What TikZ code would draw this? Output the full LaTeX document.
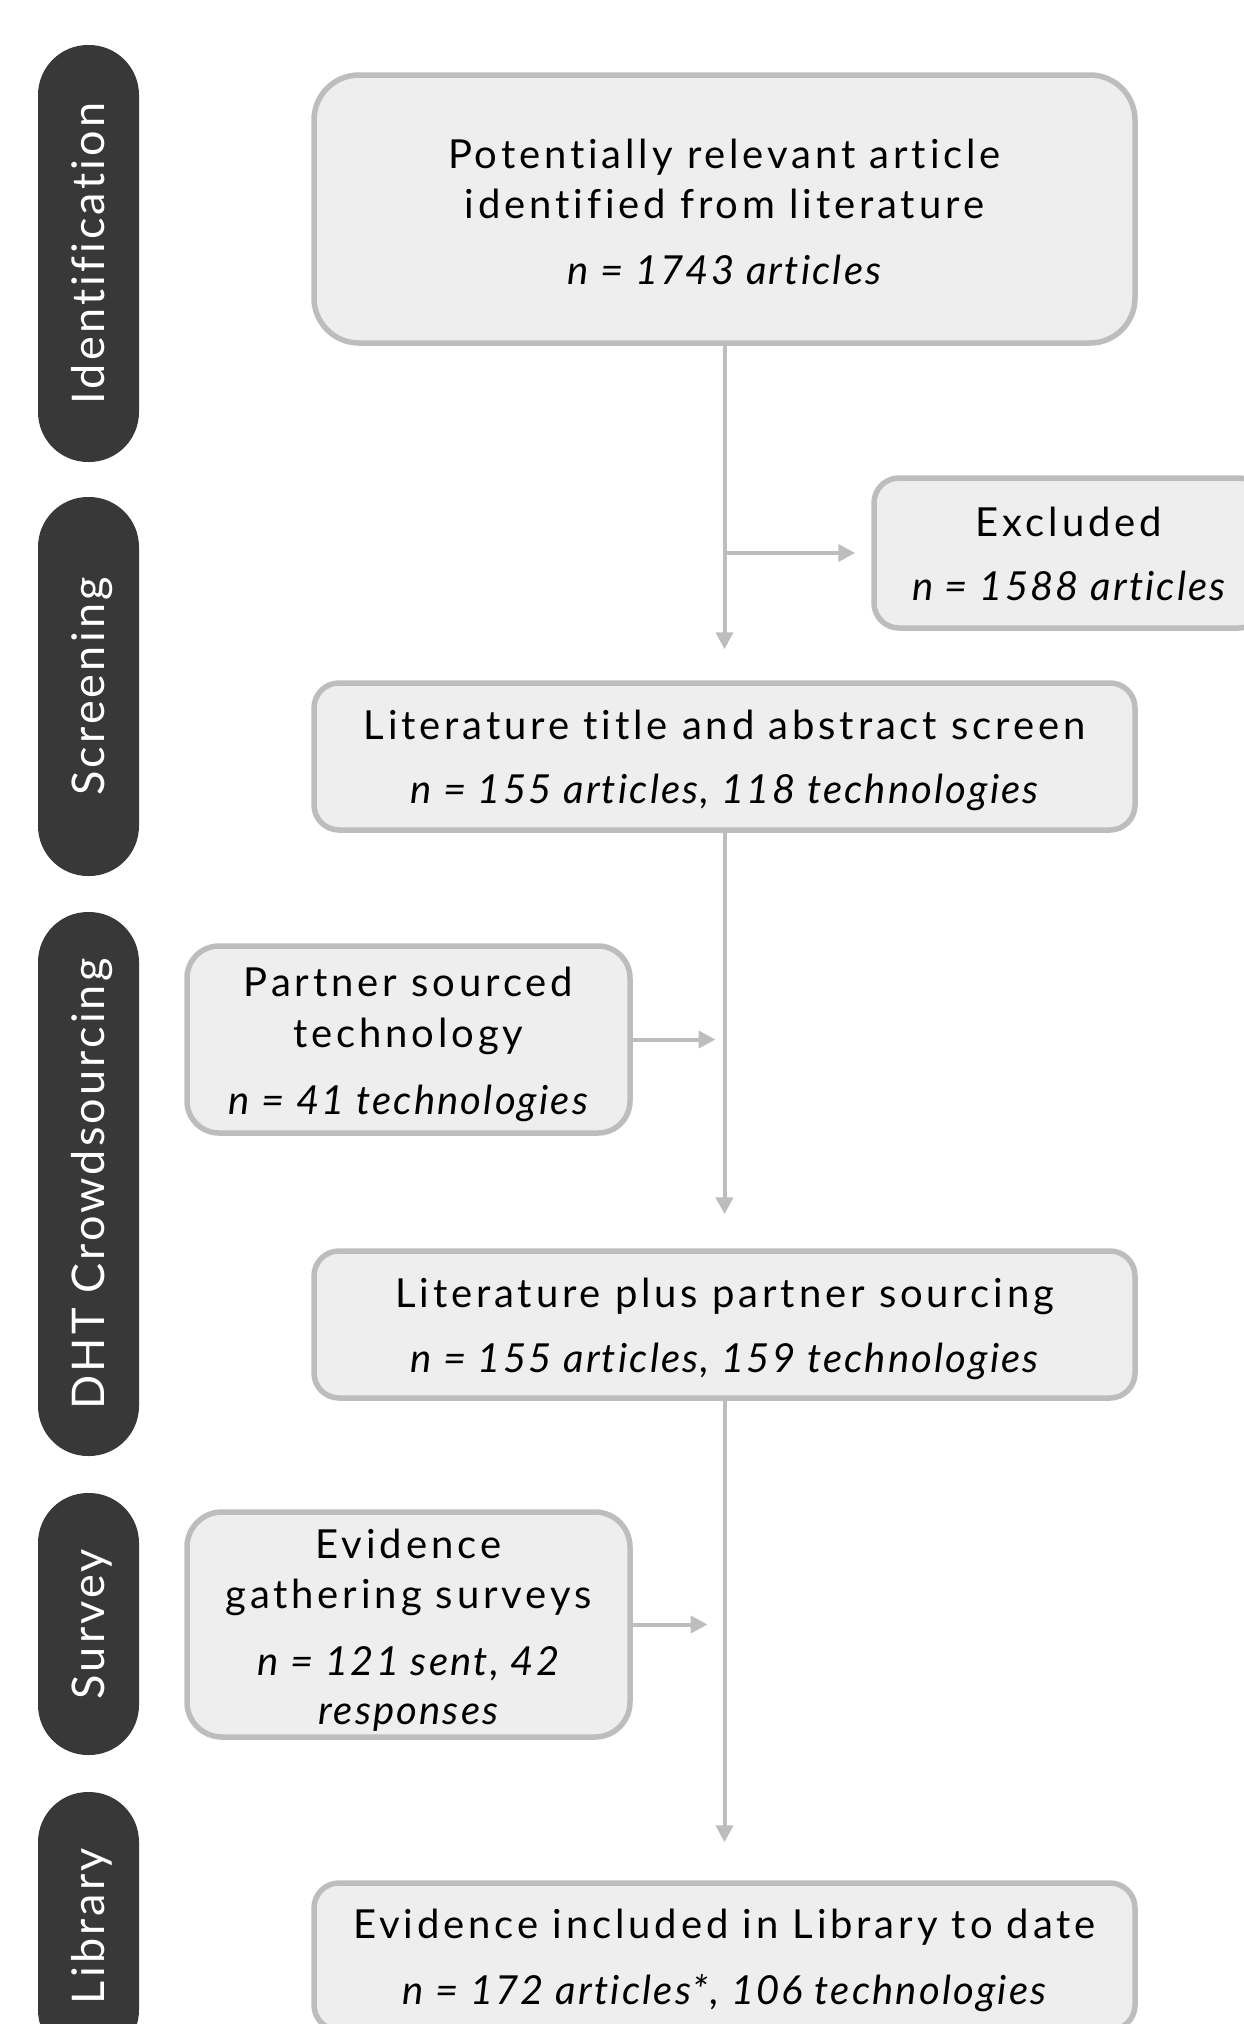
\documentclass[tikz,border=0pt]{standalone}
\usepackage{fontspec}
\setmainfont{Lato}[Ligatures=NoCommon, UprightFeatures={LetterSpace=9.7}, ItalicFeatures={LetterSpace=5.5}]
\newfontfamily\pillfam{Lato}[Ligatures=NoCommon, LetterSpace=7]
\usetikzlibrary{arrows.meta}
\definecolor{pillc}{HTML}{383838}
\definecolor{boxfill}{HTML}{EEEEEE}
\definecolor{boxline}{HTML}{BDBDBD}
\newcommand\bxfont{\fontsize{40}{48}\selectfont}
\newcommand\plfont{\pillfam\fontsize{45}{54}\selectfont}
\begin{document}
\begin{tikzpicture}[x=1pt,y=-1pt,
  pill/.style={fill=pillc, text=white, rounded corners=50pt, rotate=90, minimum height=101pt, inner sep=0pt, text height=32pt, text depth=0pt, font=\plfont},
  box/.style={fill=boxfill, draw=boxline, line width=5.5pt, inner sep=0pt},
  txt/.style={anchor=base, inner sep=0pt, font=\bxfont},
  itx/.style={anchor=base, inner sep=0pt, font=\bxfont\itshape},
  conn/.style={draw=boxline, line width=4pt, -{Triangle[length=17pt,width=17pt]}}]
\path[use as bounding box] (0,0) rectangle (1244,2024);
\clip (0,0) rectangle (1244,2024);
% stage pills
\node[pill, minimum width=417pt] (pid) at (88.5,253.5) {Identification};
\node[pill, minimum width=379pt] (pscr) at (88.5,686.5) {Screening};
\node[pill, minimum width=544pt] (pdht) at (88.5,1184) {DHT Crowdsourcing};
\node[pill, minimum width=262pt] (psur) at (88.5,1624) {Survey};
\node[pill, minimum width=268pt] (plib) at (88.5,1926) {Library};
% boxes
\node[box, rounded corners=45pt, minimum width=821pt, minimum height=268pt] (top) at (724.5,209) {};
\node[txt] (t1) at (724.5,168) {Potentially relevant article};
\node[txt] (t2) at (724.5,218) {identified from literature};
\node[itx] (t3) at (724.5,284) {n = 1743 articles};
\node[box, rounded corners=25pt, minimum width=390pt, minimum height=150pt] (excl) at (1069,553) {};
\node[txt] (e1) at (1069,536) {Excluded};
\node[itx] (e2) at (1069,600) {n = 1588 articles};
\node[box, rounded corners=25pt, minimum width=821pt, minimum height=147pt] (scr) at (724.5,756.5) {};
\node[txt] (s1) at (724.5,739) {Literature title and abstract screen};
\node[itx] (s2) at (724.5,803) {n = 155 articles, 118 technologies};
\node[box, rounded corners=32pt, minimum width=443pt, minimum height=187pt] (part) at (408.5,1039.5) {};
\node[txt] (pa1) at (408.5,996) {Partner sourced};
\node[txt] (pa2) at (408.5,1047) {technology};
\node[itx] (pa3) at (408.5,1114) {n = 41 technologies};
\node[box, rounded corners=25pt, minimum width=821pt, minimum height=147pt] (lit) at (724.5,1324.5) {};
\node[txt] (l1) at (724.5,1307) {Literature plus partner sourcing};
\node[itx] (l2) at (724.5,1372) {n = 155 articles, 159 technologies};
\node[box, rounded corners=35pt, minimum width=443pt, minimum height=225pt] (evid) at (408.5,1624.5) {};
\node[txt] (v1) at (408.5,1558) {Evidence};
\node[txt] (v2) at (408.5,1608) {gathering surveys};
\node[itx] (v3) at (408.5,1675) {n = 121 sent, 42};
\node[itx] (v4) at (408.5,1724) {responses};
\node[box, rounded corners=25pt, minimum width=821pt, minimum height=147pt] (fin) at (724.5,1956.5) {};
\node[txt] (f1) at (724.5,1938) {Evidence included in Library to date};
\node[itx] (f2) at (724.5,2004) {n = 172 articles*, 106 technologies};
% connectors
\draw[conn, shorten >=31pt] (top.south) -- (scr.north);
\draw[conn, shorten >=16pt] (top.south |- excl.west) -- (excl.west);
\draw[conn, shorten >=34pt] (scr.south) -- (lit.north);
\draw[conn, shorten >=9pt] (part.east) -- (top.south |- part.east);
\draw[conn, shorten >=38pt] (lit.south) -- (fin.north);
\draw[conn, shorten >=17pt] (evid.east) -- (top.south |- evid.east);
\end{tikzpicture}
\end{document}
